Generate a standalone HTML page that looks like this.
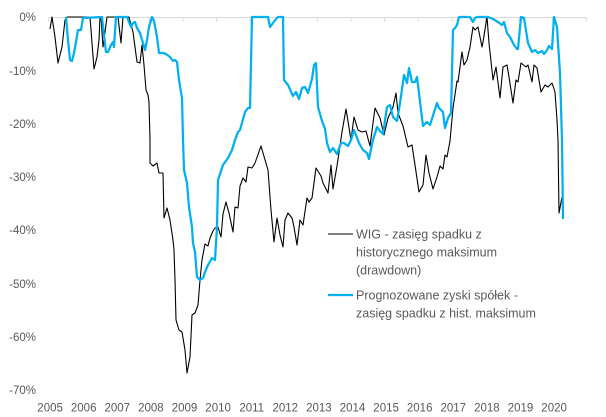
<!DOCTYPE html>
<html>
<head>
<meta charset="utf-8">
<style>
  html, body { margin:0; padding:0; background:#fff; }
  body { width:606px; height:417px; overflow:hidden; }
  svg { display:block; }
  text { font-family: "Liberation Sans", "DejaVu Sans", sans-serif; fill:#595959; }
</style>
</head>
<body>
<svg width="606" height="417" viewBox="0 0 606 417" xmlns="http://www.w3.org/2000/svg">
  <rect x="0" y="0" width="606" height="417" fill="#fff"/>

  <!-- Y labels -->
  <g font-size="11.5" text-anchor="end">
    <text x="36" y="21">0%</text>
    <text x="36" y="75">-10%</text>
    <text x="36" y="128">-20%</text>
    <text x="36" y="181">-30%</text>
    <text x="36" y="234">-40%</text>
    <text x="36" y="288">-50%</text>
    <text x="36" y="341">-60%</text>
    <text x="36" y="394">-70%</text>
  </g>

  <!-- X labels -->
  <g font-size="11.5" text-anchor="middle">
    <text x="50.1" y="411.5">2005</text>
    <text x="83.7" y="411.5">2006</text>
    <text x="117.3" y="411.5">2007</text>
    <text x="150.9" y="411.5">2008</text>
    <text x="184.5" y="411.5">2009</text>
    <text x="218.1" y="411.5">2010</text>
    <text x="251.7" y="411.5">2011</text>
    <text x="285.3" y="411.5">2012</text>
    <text x="318.9" y="411.5">2013</text>
    <text x="352.5" y="411.5">2014</text>
    <text x="386.1" y="411.5">2015</text>
    <text x="419.7" y="411.5">2016</text>
    <text x="453.3" y="411.5">2017</text>
    <text x="486.9" y="411.5">2018</text>
    <text x="520.5" y="411.5">2019</text>
    <text x="554.1" y="411.5">2020</text>
  </g>

  <!-- axis line + ticks -->
  <line x1="48.6" y1="17.5" x2="586.2" y2="17.5" stroke="#d9d9d9" stroke-width="1"/>
  <g stroke="#d9d9d9" stroke-width="1">
    <line x1="48.6" y1="17.5" x2="48.6" y2="21.5"/>
    <line x1="82.2" y1="17.5" x2="82.2" y2="21.5"/>
    <line x1="115.8" y1="17.5" x2="115.8" y2="21.5"/>
    <line x1="149.4" y1="17.5" x2="149.4" y2="21.5"/>
    <line x1="183" y1="17.5" x2="183" y2="21.5"/>
    <line x1="216.6" y1="17.5" x2="216.6" y2="21.5"/>
    <line x1="250.2" y1="17.5" x2="250.2" y2="21.5"/>
    <line x1="283.8" y1="17.5" x2="283.8" y2="21.5"/>
    <line x1="317.4" y1="17.5" x2="317.4" y2="21.5"/>
    <line x1="351" y1="17.5" x2="351" y2="21.5"/>
    <line x1="384.6" y1="17.5" x2="384.6" y2="21.5"/>
    <line x1="418.2" y1="17.5" x2="418.2" y2="21.5"/>
    <line x1="451.8" y1="17.5" x2="451.8" y2="21.5"/>
    <line x1="485.4" y1="17.5" x2="485.4" y2="21.5"/>
    <line x1="519" y1="17.5" x2="519" y2="21.5"/>
    <line x1="552.6" y1="17.5" x2="552.6" y2="21.5"/>
    <line x1="586.2" y1="17.5" x2="586.2" y2="21.5"/>
  </g>

  <!-- WIG drawdown (black) -->
  <polyline fill="none" stroke="#000" stroke-width="1.1" stroke-linejoin="round"
    points="50,29 52,17 55,37 58,63 62,47 65,20 67,17 77,17 80,17 86,17 90,17 94,69 97,57 99,40 100,17 101,17 103,47 107,17 118,17 121,43 123,17 129,17 133,32 137,62 140,63 142,45 144,65 146,90 148,95 149,102 150,140 150,163 153,166 157,163 159,173 163,173 164,218 167,208 170,220 173,240 174,250 175,280 176,320 179,330 182,332 185,350 187,373 190,357 192,315 195,313 198,305 200,280 202,260 205,244 208,246 210,238 213,231 215,228 218,227 221,237 223,214 226,202 229,213 233,232 235,207 238,208 240,186 243,178 246,182 248,167 252,168 255,163 261,146 263,153 268,170 271,210 274,242 277,218 280,235 283,247 285,220 288,213 292,218 294,227 297,245 300,220 303,225 307,198 309,202 312,198 316,168 321,176 323,183 328,193 331,165 333,189 337,166 342,132 346,109 351,140 354,117 358,130 362,132 366,131 370,146 375,108 380,118 384,135 388,118 393,107 396,93 398,113 403,126 408,147 412,145 415,165 419,192 423,185 426,155 429,173 433,189 437,177 440,166 443,169 445,155 447,157 450,141 453,108 457,81 458,82 462,52 464,65 467,60 470,47 473,27 475,30 478,27 482,47 483,42 487,17 489,43 493,80 496,67 500,98 503,67 507,65 509,77 513,103 516,80 518,82 521,63 526,67 528,65 532,82 534,65 537,68 541,92 545,85 548,87 552,83 555,92 557,120 558,140 559,213 562,197"/>

  <!-- Forecast earnings drawdown (blue) -->
  <polyline fill="none" stroke="#00B0F0" stroke-width="2.25" stroke-linejoin="round"
    points="66,17 68,40 70,60 72,61 74,53 76,42 78,30 81,30 83,18 102,17 103,27 106,52 108,52 111,45 113,42 114,47 116,17 127,17 131,27 133,23 135,22 137,28 140,33 143,43 145,50 147,40 149,27 152,17 154,21 157,37 159,53 163,53 166,54 170,57 173,61 175,60 177,62 179,80 182,98 183,140 184,170 187,183 189,207 192,227 193,243 195,252 197,277 200,280 203,278 205,272 208,265 212,258 215,260 217,227 218,180 223,165 228,158 232,150 235,140 238,132 240,130 245,112 248,108 250,108 252,17 268,17 270,27 276,19 278,17 283,17 284,80 288,85 293,96 296,92 299,99 302,88 305,87 308,93 312,79 314,65 316,63 318,107 322,121 325,129 327,143 330,152 333,148 337,154 341,143 344,143 348,146 351,140 354,130 359,143 363,150 367,153 369,159 373,140 377,127 380,131 383,134 387,107 390,105 393,117 397,121 400,103 404,75 407,83 409,68 412,82 415,82 417,77 423,126 427,122 430,125 437,103 439,108 443,112 445,128 448,118 451,113 453,30 455,28 457,25 459,17 470,17 473,22 475,18 477,17 488,17 493,19 498,22 502,25 504,22 507,33 510,37 514,45 517,49 518,49 521,17 524,18 528,43 532,52 535,50 538,53 542,51 544,54 547,50 549,46 552,49 554,17 557,27 558,43 560,73 562,140 563,219"/>

  <!-- Legend -->
  <line x1="328" y1="234" x2="353" y2="234" stroke="#000" stroke-width="1.1"/>
  <g font-size="12.5">
    <text x="356" y="238.5">WIG - zasięg spadku z</text>
    <text x="356" y="256.5">historycznego maksimum</text>
    <text x="356" y="274.5">(drawdown)</text>
  </g>
  <line x1="328" y1="295" x2="353" y2="295" stroke="#00B0F0" stroke-width="2.25"/>
  <g font-size="12.5">
    <text x="356" y="299.5">Prognozowane zyski spółek -</text>
    <text x="356" y="317.5">zasięg spadku z hist. maksimum</text>
  </g>
</svg>
</body>
</html>
